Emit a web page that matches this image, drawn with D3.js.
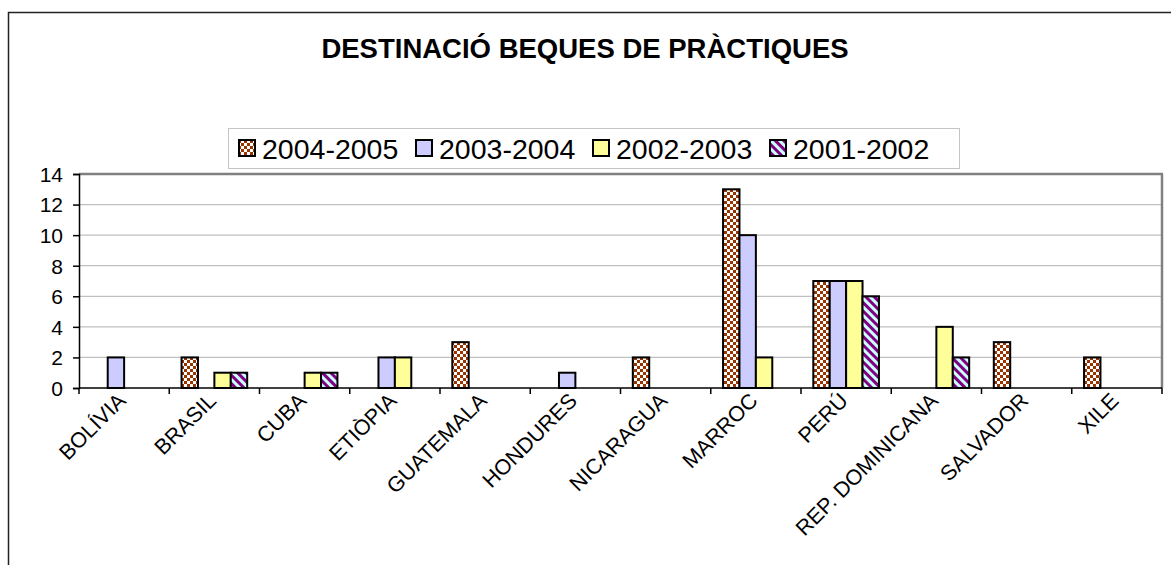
<!DOCTYPE html>
<html>
<head>
<meta charset="utf-8">
<script src="https://cdn.jsdelivr.net/npm/d3@7"></script>
<style>
  body { margin: 0; background: #fff; }
  svg { display: block; font-family: Arial, "Liberation Sans", sans-serif; }
</style>
</head>
<body>
<div class="chart"></div>
<script>
// data
let countries = ["BOLÍVIA", "BRASIL", "CUBA", "ETIÒPIA", "GUATEMALA", "HONDURES", "NICARAGUA", "MARROC", "PERÚ", "REP. DOMINICANA", "SALVADOR", "XILE"]
let seriesNames = ["2004-2005", "2003-2004", "2002-2003", "2001-2002"]
let v0405 = [0, 2, 0, 0, 3, 0, 2, 13, 7, 0, 3, 2]
let v0304 = [2, 0, 0, 2, 0, 1, 0, 10, 7, 0, 0, 0]
let v0203 = [0, 1, 1, 2, 0, 0, 0, 2, 7, 4, 0, 0]
let v0102 = [0, 1, 1, 0, 0, 0, 0, 0, 6, 2, 0, 0]
let yTicks = [0, 2, 4, 6, 8, 10, 12, 14]

let allValues = [v0405, v0304, v0203, v0102]
let fills = ["url(#checker)", "#ccccff", "#ffff99", "url(#stripes)"]

let svg = d3.select(".chart").append("svg").attr("width", 1171).attr("height", 565),
    margin = {top: 174, right: 9, bottom: 177, left: 79},
    width = 1171 - margin.left - margin.right,
    height = 565 - margin.top - margin.bottom;

// patterns
let defs = svg.append("defs")
let checker = defs.append("pattern").attr("id", "checker")
    .attr("patternUnits", "userSpaceOnUse").attr("width", 6).attr("height", 6)
checker.append("rect").attr("width", 6).attr("height", 6).attr("fill", "#fff")
checker.append("rect").attr("width", 3).attr("height", 3).attr("fill", "#993300")
checker.append("rect").attr("x", 3).attr("y", 3).attr("width", 3).attr("height", 3).attr("fill", "#993300")

let stripes = defs.append("pattern").attr("id", "stripes")
    .attr("patternUnits", "userSpaceOnUse").attr("width", 6).attr("height", 6)
    .attr("patternTransform", "rotate(-45)")
stripes.append("rect").attr("width", 6).attr("height", 6).attr("fill", "#ccffff")
stripes.append("rect").attr("width", 3).attr("height", 6).attr("fill", "#800080")

// outer frame
svg.append("rect")
    .attr("x", 8.5).attr("y", 12.5).attr("width", 1300).attr("height", 700)
    .attr("fill", "none").attr("stroke", "#222").attr("stroke-width", 1.5)

svg.append("text")
    .attr("x", 585).attr("y", 58)
    .attr("text-anchor", "middle")
    .style("font-size", "27.5px").style("font-weight", "bold")
    .text("DESTINACIÓ BEQUES DE PRÀCTIQUES")

// legend
let legend = svg.append("g").attr("transform", "translate(228,128)")
legend.append("rect")
    .attr("x", 0.5).attr("y", 0.5).attr("width", 731).attr("height", 40)
    .attr("fill", "none").attr("stroke", "#888").attr("stroke-dasharray", "1,1")

let item = legend.selectAll(".item")
    .data(seriesNames)
    .enter().append("g")
    .attr("class", "item")
    .attr("transform", (d, i) => "translate(" + (10 + i * 177) + ",0)")
item.append("rect")
    .attr("x", 1).attr("y", 12).attr("width", 16).attr("height", 16)
    .attr("fill", (d, i) => fills[i]).attr("stroke", "#000").attr("stroke-width", 2)
item.append("text")
    .attr("x", 24).attr("y", 31)
    .style("font-size", "28.5px")
    .text(d => d)

let g = svg.append("g").attr("transform", "translate(" + margin.left + "," + margin.top + ")")

let x = d3.scaleBand().domain(countries).range([0, width])
let x1 = d3.scaleBand().domain(seriesNames).range([0, x.bandwidth()]).paddingInner(0).paddingOuter(0.75)
let y = d3.scaleLinear().domain([0, 14]).range([height, 0])

// gridlines
g.selectAll(".grid")
    .data(yTicks.filter(d => d > 0 && d < 14))
    .enter().append("line")
    .attr("x1", 0).attr("x2", width)
    .attr("y1", d => y(d)).attr("y2", d => y(d))
    .attr("stroke", "#c0c0c0").attr("stroke-width", 1.2)

// plot border top/right
g.append("line").attr("x1", 0).attr("x2", width + 1).attr("y1", 0).attr("y2", 0)
    .attr("stroke", "#808080").attr("stroke-width", 2.5)
g.append("line").attr("x1", width).attr("x2", width).attr("y1", 0).attr("y2", height)
    .attr("stroke", "#808080").attr("stroke-width", 2.5)

// bars
let bars = []
countries.forEach((c, ci) => {
  seriesNames.forEach((s, si) => {
    let v = allValues[si][ci]
    if (v > 0) bars.push({country: c, series: s, si: si, value: v})
  })
})

g.selectAll(".bar")
    .data(bars)
    .enter().append("rect")
    .attr("class", "bar")
    .attr("x", d => x(d.country) + x1(d.series))
    .attr("y", d => y(d.value))
    .attr("width", x1.bandwidth())
    .attr("height", d => height - y(d.value))
    .attr("fill", d => fills[d.si])
    .attr("stroke", "#000").attr("stroke-width", 2)

// y axis
let yAxis = g.append("g")
    .call(d3.axisLeft(y).tickValues(yTicks).tickSize(6).tickPadding(10))
yAxis.select(".domain").attr("stroke", "#000").attr("stroke-width", 1.5)
yAxis.selectAll(".tick line").attr("stroke", "#000").attr("stroke-width", 1.5)
yAxis.selectAll("text").style("font-size", "21px").attr("fill", "#000").attr("dy", "0.35em")

// x axis with ticks at category boundaries
let xAxis = g.append("g").attr("transform", "translate(0," + height + ")")
xAxis.append("line").attr("x1", 0).attr("x2", width).attr("stroke", "#000").attr("stroke-width", 1.5)
xAxis.selectAll(".xtick")
    .data(countries.concat(["end"]))
    .enter().append("line")
    .attr("x1", (d, i) => i < countries.length ? x(d) : width)
    .attr("x2", (d, i) => i < countries.length ? x(d) : width)
    .attr("y1", 0).attr("y2", 6)
    .attr("stroke", "#000").attr("stroke-width", 1.5)

xAxis.selectAll(".xlabel")
    .data(countries)
    .enter().append("text")
    .attr("text-anchor", "end")
    .attr("transform", d => "translate(" + (x(d) + x.bandwidth() / 2 + 3) + ",14) rotate(-45)")
    .style("font-size", "21.5px")
    .text(d => d)
</script>
</body>
</html>
